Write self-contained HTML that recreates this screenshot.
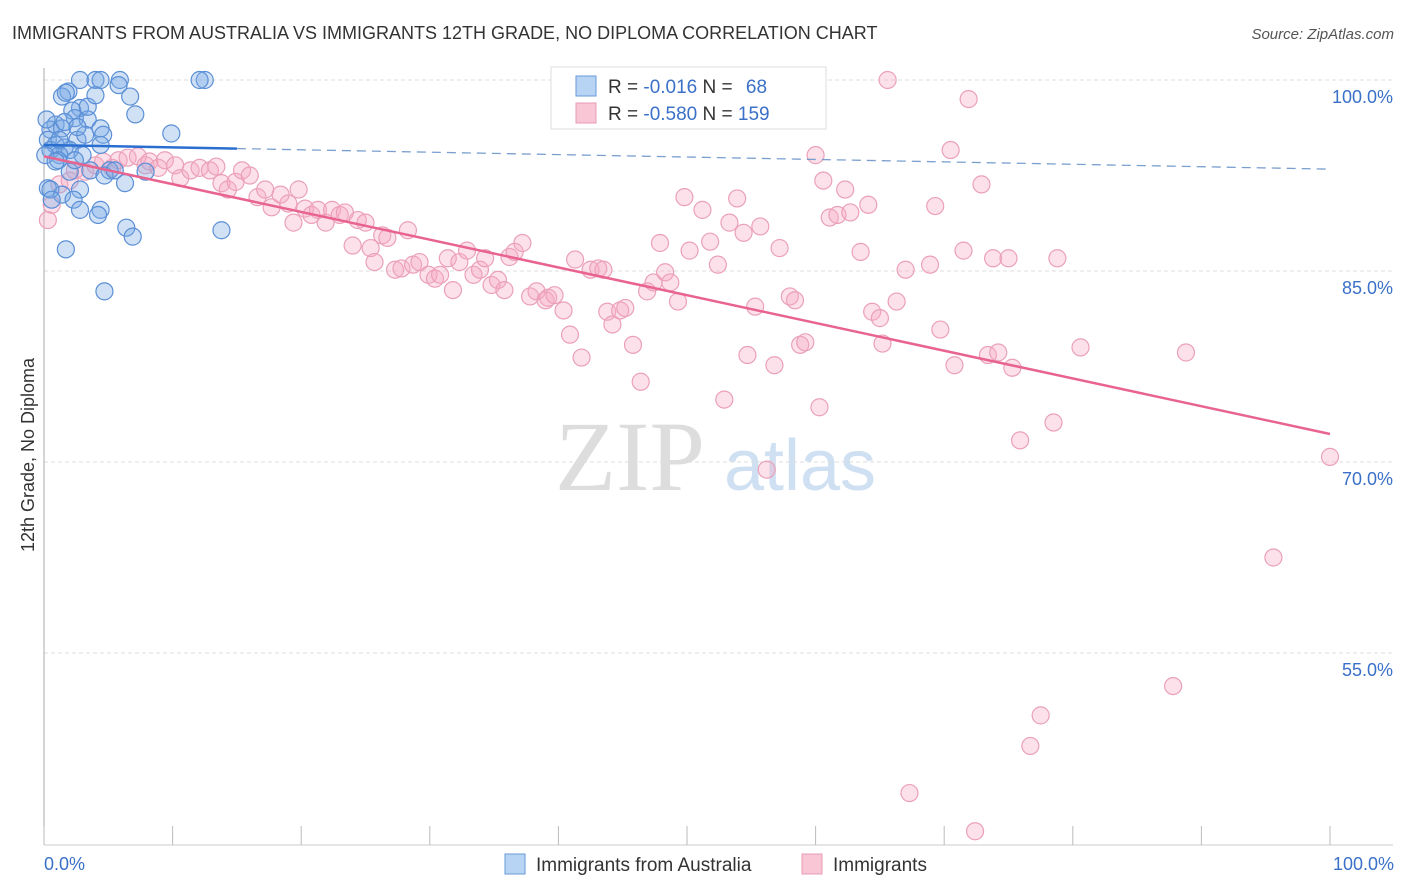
<!DOCTYPE html>
<html><head><meta charset="utf-8"><style>
body{margin:0;background:#fff;font-family:"Liberation Sans",sans-serif;}
#c{position:relative;width:1406px;height:892px;overflow:hidden;}
</style></head><body>
<div id="c">
<svg id="s" width="1406" height="892" xmlns="http://www.w3.org/2000/svg">
<text x="12" y="39" font-size="18" fill="#333">IMMIGRANTS FROM AUSTRALIA VS IMMIGRANTS 12TH GRADE, NO DIPLOMA CORRELATION CHART</text>
<text x="1394" y="39" font-size="15" fill="#555" text-anchor="end" font-style="italic">Source: ZipAtlas.com</text>
<text x="630" y="490" font-size="100" fill="#ddd" font-family="Liberation Serif,serif" text-anchor="middle">ZIP</text>
<text x="800" y="490" font-size="72" fill="#cfe0f3" text-anchor="middle">atlas</text>
<text transform="translate(34,455) rotate(-90)" font-size="18" fill="#333" text-anchor="middle">12th Grade, No Diploma</text>
<g id="grid"></g><g id="pts"></g><g id="lines"></g>
<rect x="551" y="67" width="275" height="62" fill="#fff" stroke="#ddd"/>
<rect x="576" y="76" width="20" height="20" fill="#b8d4f4" stroke="#6a9ad8"/>
<rect x="576" y="103" width="20" height="20" fill="#f9c6d6" stroke="#e899b4"/>
<text x="608" y="93" font-size="19" fill="#333">R = <tspan fill="#3a70c8">-0.016</tspan>   N = <tspan fill="#3a70c8" dx="8">68</tspan></text>
<text x="608" y="120" font-size="19" fill="#333">R = <tspan fill="#3a70c8">-0.580</tspan>   N = <tspan fill="#3a70c8">159</tspan></text>
<rect x="505" y="854" width="20" height="20" fill="#b8d4f4" stroke="#6a9ad8"/>
<text x="536" y="871" font-size="19" fill="#333">Immigrants from Australia</text>
<rect x="802" y="854" width="20" height="20" fill="#f9c6d6" stroke="#e899b4"/>
<text x="833" y="871" font-size="19" fill="#333">Immigrants</text>
<text x="44" y="870" font-size="18" fill="#3a70c8">0.0%</text>
<text x="1394" y="870" font-size="18" fill="#3a70c8" text-anchor="end">100.0%</text>
</svg></div>
<script>
const yTicks=[100,85,70,55];
const yTickLabels=["100.0%","85.0%","70.0%","55.0%"];
const xTicks=[0,10,20,30,40,50,60,70,80,90,100];
const blueX=[2.8,4.0,4.4,5.9,12.5,12.1,5.8,1.9,1.4,6.7,7.1,2.8,2.2,2.4,3.4,0.9,0.5,1.4,4.4,4.6,9.9,2.6,0.3,0.9,1.6,2.0,0.5,1.2,3.0,5.1,2.0,3.6,4.7,7.9,6.3,0.3,1.4,2.8,2.3,4.4,2.8,4.2,6.4,6.9,13.8,1.7,4.7,0.5,0.6,1.1,0.1,1.2,3.4,1.7,4.4,5.5,2.4,0.9,0.2,1.6,3.2,4.0,2.6];
const blueY=[100,100,100,100,100,100,99.6,99.1,98.7,98.7,97.3,97.8,97.6,97.0,96.9,96.5,96.1,96.2,96.2,95.7,95.8,95.3,95.3,94.9,94.7,94.5,94.5,94.1,94.1,92.9,92.8,92.9,92.5,92.8,91.9,91.5,91.0,91.4,90.6,89.8,89.8,89.4,88.4,87.7,88.2,86.7,83.4,91.4,90.6,93.7,94.1,95.3,97.9,99.0,94.9,92.9,93.7,93.6,96.9,96.7,95.7,98.8,96.3];
const pinkX=[0.3,0.6,1.2,2.0,2.4,3.2,4.0,4.6,5.3,5.8,6.5,7.3,7.9,8.2,8.9,9.4,10.2,10.6,11.4,12.1,12.9,13.4,13.8,14.3,14.9,15.4,16.0,16.6,17.2,17.7,18.4,19.0,19.4,19.8,20.3,20.8,21.3,21.9,22.4,23.0,23.4,24.0,24.4,25.0,25.4,25.7,26.3,26.7,27.3,27.8,28.3,28.7,29.2,29.9,30.4,30.8,31.4,31.8,32.3,32.9,33.4,33.9,34.3,34.8,35.3,35.8,36.2,36.6,37.2,37.8,38.3,39.0,39.2,39.7,40.4,40.9,41.3,41.8,42.5,43.1,43.5,43.8,44.2,44.8,45.2,45.8,46.4,46.9,47.4,47.9,48.3,48.7,49.3,49.8,50.2,51.2,51.8,52.4,52.9,53.3,53.9,54.4,54.7,55.3,55.7,56.8,57.2,58.0,58.4,58.8,59.2,60.0,60.3,60.6,61.1,61.7,62.3,62.7,63.5,64.1,64.4,65.0,65.2,65.6,66.3,67.0,67.3,69.3,69.7,70.5,70.8,71.5,71.9,72.4,72.9,73.4,73.8,74.2,75.0,75.3,75.9,76.7,77.5,78.5,78.8,80.6,87.8,88.8,95.6,100,56.2,68.9];
const pinkY=[89.0,90.2,91.8,92.1,92.9,92.8,93.3,93.6,93.1,93.7,93.9,94.0,93.3,93.6,93.1,93.7,93.3,92.3,92.9,93.1,92.9,93.2,91.9,91.4,92.0,92.9,92.5,90.8,91.4,90.0,91.0,90.3,88.8,91.4,89.9,89.4,89.8,88.8,89.8,89.4,89.6,87.0,89.0,88.8,86.8,85.7,87.8,87.6,85.1,85.2,88.2,85.5,85.7,84.7,84.4,84.7,86.0,83.5,85.7,86.6,84.7,85.1,86.0,83.9,84.3,83.5,86.1,86.5,87.2,83.0,83.4,82.7,82.9,83.1,81.9,80.0,85.9,78.2,85.1,85.2,85.1,81.8,80.8,81.9,82.1,79.2,76.3,83.4,84.1,87.2,84.9,84.1,82.6,90.8,86.6,89.8,87.3,85.5,74.9,88.8,90.7,88.0,78.4,82.2,88.5,77.6,86.8,83.0,82.7,79.2,79.4,94.1,74.3,92.1,89.2,89.4,91.4,89.6,86.5,90.2,81.8,81.3,79.3,100,82.6,85.1,44.0,90.1,80.4,94.5,77.6,86.6,98.5,41.0,91.8,78.4,86.0,78.6,86.0,77.4,71.7,47.7,50.1,73.1,86.0,79.0,52.4,78.6,62.5,70.4,69.4,85.5];
const blueTrend=[94.9,93.0];
const blueSolidEnd=15;
const pinkTrend=[94.0,72.2];
const sx=v=>44+v*12.86, sy=v=>80+(100-v)*12.733;
const NS="http://www.w3.org/2000/svg";
function mk(tag,attrs,parent){const e=document.createElementNS(NS,tag);for(const k in attrs)e.setAttribute(k,attrs[k]);parent.appendChild(e);return e;}
const grid=document.getElementById('grid');
yTicks.forEach((t,i)=>{
 const l=mk('line',{x1:44,x2:1393,y1:sy(t),y2:sy(t),stroke:'#ddd','stroke-dasharray':'4,3'},grid);
 
 
 const tx=mk('text',{x:1393,y:sy(t)+23,'font-size':18,fill:'#3a70c8','text-anchor':'end'},grid);
 tx.textContent=yTickLabels[i];
 
 
});
const ax=mk('line',{x1:44,x2:44,y1:68,y2:845,stroke:'#aaa'},grid);


const bx=mk('line',{x1:44,x2:1393,y1:845,y2:845,stroke:'#ccc'},grid);


xTicks.forEach(t=>{
 const l=mk('line',{x1:sx(t),x2:sx(t),y1:826,y2:845,stroke:'#bbb'},grid);
 
 
});
const pts=document.getElementById('pts');
pinkX.forEach((x,i)=>{
 const c=mk('circle',{cx:sx(x),cy:sy(pinkY[i]),r:8.5,fill:'rgba(246,168,194,0.35)',stroke:'#eba0ba','stroke-width':1.2},pts);
 
 
});
blueX.forEach((x,i)=>{
 const c=mk('circle',{cx:sx(x),cy:sy(blueY[i]),r:8.5,fill:'rgba(120,170,230,0.35)',stroke:'#5b8fd6','stroke-width':1.2},pts);
 
 
});
const lines=document.getElementById('lines');
const by=x=>blueTrend[0]+(blueTrend[1]-blueTrend[0])*x/100;
let l1=mk('line',{x1:sx(0),y1:sy(by(0)),x2:sx(blueSolidEnd),y2:sy(by(blueSolidEnd)),stroke:'#2a6fd0','stroke-width':2.5},lines);


let l2=mk('line',{x1:sx(blueSolidEnd),y1:sy(by(blueSolidEnd)),x2:sx(99.7),y2:sy(by(99.7)),stroke:'#7a9fcf','stroke-width':1.3,'stroke-dasharray':'9,6'},lines);


let l3=mk('line',{x1:sx(0),y1:sy(pinkTrend[0]),x2:sx(100),y2:sy(pinkTrend[1]),stroke:'#e8648f','stroke-width':2.5},lines);


</script>
</body></html>
